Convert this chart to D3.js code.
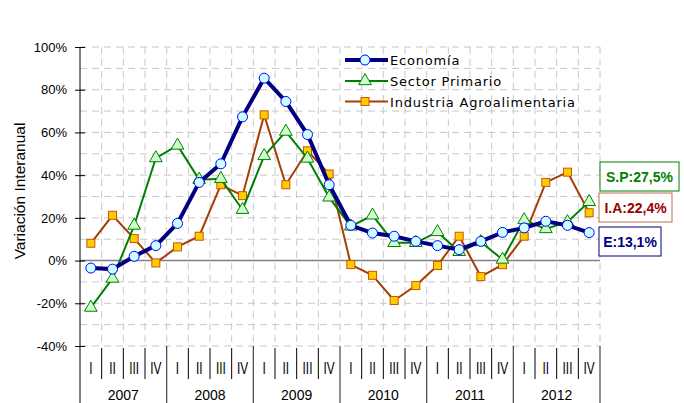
<!DOCTYPE html>
<html><head><meta charset="utf-8">
<script src="https://cdn.jsdelivr.net/npm/d3@7"></script>
<style>body{margin:0;background:#fff}svg{display:block}</style>
</head><body><svg id="c" width="684" height="403"></svg>
<script>
const years = ["2007","2008","2009","2010","2011","2012"];
const quarters = ["I","II","III","IV"];
const economia = [-3.5,-4,2,7,17.4,36.6,45.3,67.3,85.4,74.5,59,35.5,16.5,12.9,11.4,9,7,5.1,9,13.2,15.3,18.4,16.5,13.1];
const sectorPrimario = [-22,-8.4,16.4,48,53.9,37.9,38.3,23.8,49,60.4,47.8,29.6,16,21.2,8.3,8.3,13.4,4.1,8.7,0.5,19,14.8,18.1,27.5];
const industria = [8.1,21.2,10.3,-1.1,6.4,11.4,35.5,30.4,68.2,35.5,51.4,40.5,-1.9,-6.9,-18.7,-11.7,-2.3,11.4,-7.5,-1.9,11.4,36.6,41.4,22.4];
const yTicks = [-40,-20,0,20,40,60,80,100];
const endLabels = [
  {text:"S.P:27,5%", color:"#008000", border:"#008000"},
  {text:"I.A:22,4%", color:"#990000", border:"#b8704a"},
  {text:"E:13,1%", color:"#000080", border:"#000080"}
];

const cats = [];
years.forEach(y => quarters.forEach(q => cats.push(y + "-" + q)));

const FONT = "Liberation Sans, Arial, sans-serif";
const svg = d3.select("#c");
const L = 80, R = 600, T = 47, B = 346;
const x = d3.scaleBand().domain(cats).range([L, R]);
const y = d3.scaleLinear().domain([-40, 100]).range([B, T]);

// horizontal dashed grid (every 10%)
const grid = svg.append("g");
d3.range(-40, 101, 10).filter(v => v !== 0).forEach(v => {
  grid.append("line").attr("x1", L).attr("x2", R).attr("y1", y(v)).attr("y2", y(v))
    .attr("stroke", "#c8c8c8").attr("stroke-dasharray", "7,5").attr("stroke-width", 1);
});
// vertical dashed grid at category boundaries
cats.forEach((c, i) => {
  if (i === 0) return;
  grid.append("line").attr("x1", x(c)).attr("x2", x(c)).attr("y1", T).attr("y2", B)
    .attr("stroke", "#c8c8c8").attr("stroke-dasharray", "7,5").attr("stroke-width", 1);
});
grid.append("line").attr("x1", R).attr("x2", R).attr("y1", T).attr("y2", B)
  .attr("stroke", "#c8c8c8").attr("stroke-dasharray", "7,5");

// zero line
svg.append("line").attr("x1", L).attr("x2", R).attr("y1", y(0)).attr("y2", y(0))
  .attr("stroke", "#808080").attr("stroke-width", 1.5);

// y axis (ticks cross the axis line)
const yAxis = d3.axisLeft(y).tickValues(yTicks).tickFormat(d => d + "%").tickSize(5).tickPadding(8);
const ga = svg.append("g").attr("transform", `translate(${L},0)`).call(yAxis);
ga.select(".domain").remove();
ga.selectAll("text").attr("font-family", FONT).attr("font-size", 13).attr("fill", "#000");
ga.selectAll("line").attr("stroke", "#000").attr("x1", 5);
svg.append("line").attr("x1", L).attr("x2", L).attr("y1", T).attr("y2", 403).attr("stroke", "#000");

// x axis: quarters and years
const xa = svg.append("g");
cats.forEach((c, i) => {
  const q = quarters[i % 4];
  xa.append("text").attr("transform", `translate(${x(c) + x.bandwidth() / 2},373.5) scale(0.74,1)`)
    .attr("text-anchor", "middle").attr("font-family", FONT)
    .attr("font-size", 16).text(q);
  const xb = x(c) + x.bandwidth();
  const yearEnd = (i % 4) === 3;
  xa.append("line").attr("x1", xb).attr("x2", xb).attr("y1", yearEnd ? B : 348).attr("y2", yearEnd ? 403 : 379)
    .attr("stroke", yearEnd ? "#444" : "#000").attr("stroke-width", yearEnd ? 1.2 : 1);
});
years.forEach((yr, k) => {
  const x0 = x(cats[k * 4]), x1 = x(cats[k * 4 + 3]) + x.bandwidth();
  xa.append("text").attr("x", (x0 + x1) / 2).attr("y", 400).attr("text-anchor", "middle")
    .attr("font-family", FONT).attr("font-size", 14).text(yr);
});

// y title
svg.append("text").attr("transform", "translate(25,191) rotate(-90)").attr("text-anchor", "middle")
  .attr("font-family", FONT).attr("font-size", 15.5).text("Variación Interanual");

const cx = (d, i) => x(cats[i]) + x.bandwidth() / 2;
const line = d3.line().x(cx).y(d => y(d));
const tri = d3.symbol().type(d3.symbolTriangle).size(70);

// Industria
svg.append("path").datum(industria).attr("d", line).attr("fill", "none").attr("stroke", "#a63c06").attr("stroke-width", 2);
svg.selectAll(".sq").data(industria).join("rect").attr("x", (d, i) => cx(d, i) - 4).attr("y", d => y(d) - 4)
  .attr("width", 8).attr("height", 8).attr("fill", "#ffcc00").attr("stroke", "#cc5500").attr("stroke-width", 1);
// Sector primario
svg.append("path").datum(sectorPrimario).attr("d", line).attr("fill", "none").attr("stroke", "#008000").attr("stroke-width", 2);
svg.selectAll(".tr").data(sectorPrimario).join("path").attr("d", tri)
  .attr("transform", (d, i) => `translate(${cx(d, i)},${y(d)})`).attr("fill", "#ccffcc").attr("stroke", "#008000").attr("stroke-width", 1);
// Economia
svg.append("path").datum(economia).attr("d", line).attr("fill", "none").attr("stroke", "#000080").attr("stroke-width", 4);
svg.selectAll(".ci").data(economia).join("circle").attr("cx", cx).attr("cy", d => y(d)).attr("r", 5)
  .attr("fill", "#ccffff").attr("stroke", "#0000ff").attr("stroke-width", 1);

// legend
const leg = svg.append("g");
const legItems = [
  {name: "Economía", type: "c"}, {name: "Sector Primario", type: "t"}, {name: "Industria Agroalimentaria", type: "s"}
];
const legY = [60, 81, 101.5];
legItems.forEach((it, k) => {
  const ly = legY[k];
  const g = leg.append("g");
  if (it.type === "c") {
    g.append("line").attr("x1", 345).attr("x2", 388).attr("y1", ly).attr("y2", ly).attr("stroke", "#000080").attr("stroke-width", 4);
    g.append("circle").attr("cx", 365).attr("cy", ly).attr("r", 5).attr("fill", "#ccffff").attr("stroke", "#0000ff");
  } else if (it.type === "t") {
    g.append("line").attr("x1", 345).attr("x2", 388).attr("y1", ly).attr("y2", ly).attr("stroke", "#008000").attr("stroke-width", 2);
    g.append("path").attr("d", tri).attr("transform", `translate(365,${ly})`).attr("fill", "#ccffcc").attr("stroke", "#008000");
  } else {
    g.append("line").attr("x1", 345).attr("x2", 388).attr("y1", ly).attr("y2", ly).attr("stroke", "#a63c06").attr("stroke-width", 2);
    g.append("rect").attr("x", 361).attr("y", ly - 4).attr("width", 8).attr("height", 8).attr("fill", "#ffcc00").attr("stroke", "#cc5500");
  }
  g.append("text").attr("x", 390).attr("y", ly + 5).attr("font-family", "DejaVu Sans, Verdana, sans-serif")
    .attr("font-size", 13).attr("letter-spacing", 0.8).text(it.name);
});

// end labels
const boxes = [{x: 600, y: 162, w: 79, h: 29}, {x: 599, y: 193, w: 73, h: 29}, {x: 599, y: 227, w: 62, h: 29}];
endLabels.forEach((e, k) => {
  const b = boxes[k];
  svg.append("rect").attr("x", b.x).attr("y", b.y).attr("width", b.w).attr("height", b.h)
    .attr("fill", "#fff").attr("stroke", e.border).attr("stroke-width", 1);
  svg.append("text").attr("x", b.x + b.w / 2).attr("y", b.y + b.h / 2 + 5).attr("text-anchor", "middle")
    .attr("font-family", FONT).attr("font-weight", "bold").attr("font-size", 14)
    .attr("fill", e.color).text(e.text);
});
</script></body></html>
